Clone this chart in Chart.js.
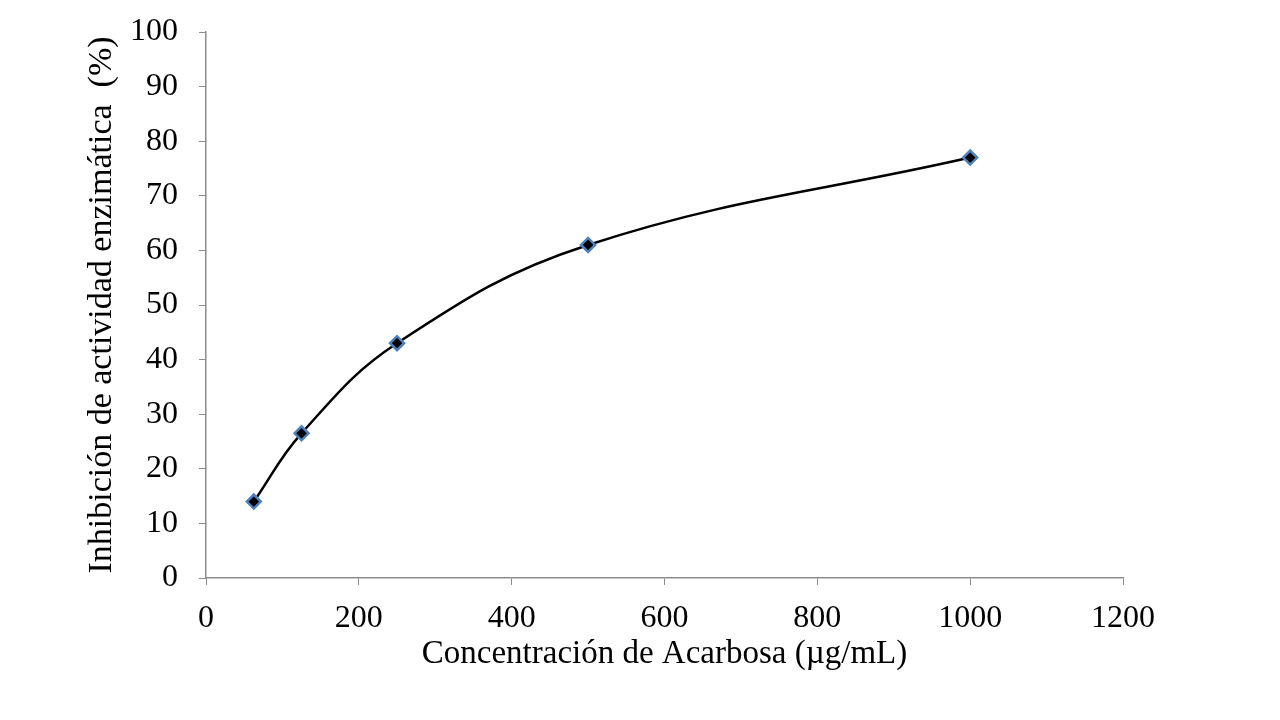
<!DOCTYPE html>
<html>
<head>
<meta charset="utf-8">
<script src="https://cdn.jsdelivr.net/npm/chart.js@4/dist/chart.umd.min.js"></script>
<style>
  html, body { margin: 0; padding: 0; background: #fff; }
  #wrap { width: 1280px; height: 720px; }
</style>
</head>
<body>
<div id="wrap"><canvas id="chart"></canvas></div>
<script>
const concentrations = [62.5, 125, 250, 500, 1000];
const inhibition = [14, 26.5, 43, 61, 77];
const xTitle = 'Concentración de Acarbosa (µg/mL)';
const yTitle = 'Inhibición de actividad enzimática  (%)';

const axisColor = '#8c8c8c';
const serif = "'Liberation Serif', 'Times New Roman', serif";

const ctx = document.querySelector('#chart').getContext('2d');

new Chart(ctx, {
    type: 'scatter',
    data: {
        datasets: [{
            data: concentrations.map((x, i) => ({ x: x, y: inhibition[i] })),
            showLine: true,
            borderColor: '#000',
            borderWidth: 2.5,
            tension: 0.4,
            pointStyle: 'rectRot',
            pointRadius: 7,
            pointBackgroundColor: '#000',
            pointBorderColor: '#4f81bd',
            pointBorderWidth: 2.5
        }]
    },
    options: {
        responsive: true,
        maintainAspectRatio: false,
        animation: false,
        layout: { padding: { top: 32, right: 157, bottom: 0, left: 0 } },
        plugins: { legend: { display: false }, tooltip: { enabled: false } },
        scales: {
            x: {
                type: 'linear',
                min: 0,
                max: 1200,
                ticks: { stepSize: 200, color: '#000', font: { family: serif, size: 32 }, padding: 14,
                         maxRotation: 0, callback: (v) => String(v) },
                grid: { drawOnChartArea: false, drawTicks: true, tickLength: 7, color: axisColor },
                border: { color: axisColor, width: 1.5 },
                title: { display: true, text: xTitle, color: '#000', font: { family: serif, size: 33 },
                         padding: { top: 0, bottom: 46 } },
                afterFit: (s) => { s.height = 142; }
            },
            y: {
                min: 0,
                max: 100,
                // small lineHeight keeps the top label overhang inside the layout padding
                ticks: { stepSize: 10, color: '#000', font: { family: serif, size: 32, lineHeight: 0.6 }, padding: 21 },
                grid: { drawOnChartArea: false, drawTicks: true, tickLength: 7, color: axisColor },
                border: { color: axisColor, width: 1.5 },
                title: { display: true, text: yTitle, color: '#000', font: { family: serif, size: 34 },
                         padding: { top: 82, bottom: 0 } },
                afterFit: (s) => { s.width = 206; }
            }
        }
    }
});
</script>
</body>
</html>
